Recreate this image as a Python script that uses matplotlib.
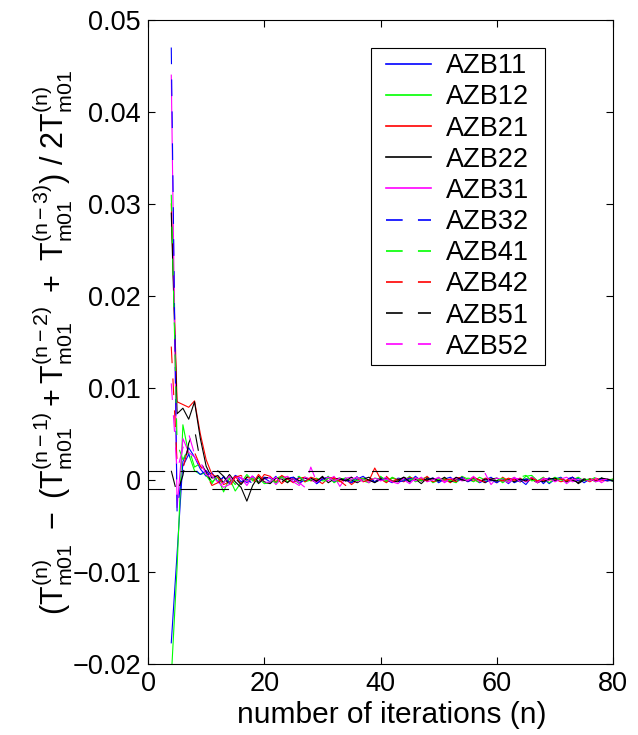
import matplotlib
matplotlib.use("Agg")
import matplotlib.pyplot as plt
from matplotlib.patches import Rectangle
import numpy as np

# values are in units of 1e-4, iterations n = 4 .. 80
UNIT = 1e-4
n_iter = np.arange(4, 81)

labels = ["AZB11", "AZB12", "AZB21", "AZB22", "AZB31",
          "AZB32", "AZB41", "AZB42", "AZB51", "AZB52"]
colors = ["#0000ff", "#00ff00", "#ff0000", "#000000", "#ff00ff",
          "#0000ff", "#00ff00", "#ff0000", "#000000", "#ff00ff"]
dashed = [False, False, False, False, False, True, True, True, True, True]

azb11 = [-177, -80, 20, 35, 25, 12, 4, 8, -2, 3, -4, 5, 2, -3, 4, -2, 3,
         2, -3, 4, 1, -2, 3, -1, 2, -4, 1,
         3, -2, 0, 2, -3, 1, 4, -1, -2, 3,
         0, -3, 2, 1, -2, 4, -1, 0, 2, -3,
         1, 3, -2, 1, -1, 2, -3, 0, 3, -2,
         1, -4, 2, 0, -5, 3, -1, 2, -4, 1,
         3, -2, 0, 2, -3, 1, -1, 2, 0, -1]
azb12 = [-215, -95, 60, 28, 10, 6, 8, -2, 3, -13, 2, -12, -3, 6, -1, 2, -4,
         -3, 2, 4, -2, 1, -4, 3, 0, 2, -1,
         4, -3, 1, 2, -2, 3, -1, -3, 2, 1,
         -2, 3, 0, -1, 4, -2, 1, 3, -3, 0,
         2, -1, -3, 4, 1, -2, 3, 0, -1, 2,
         -3, 1, 2, -2, 4, 5, -1, 3, -3, 1,
         2, -2, 0, 3, -1, 1, -2, 2, 0, -1]
azb21 = [300, 85, 82, 79, 86, 50, 22, 6, 3, -5, -2, 4, -4, 3, 1, -3, 6,
         4, -2, 5, 1, -3, 2, 3, -1, 0, -4,
         2, 3, -2, 1, -5, 0, 2, -1, 13, 1,
         -3, 2, 0, -2, 3, 1, -1, 4, -2, 0,
         1, -3, 2, 3, -1, 0, -2, 2, 1, -3,
         3, -1, 0, 2, -2, 1, -3, 2, 0, 1,
         -2, 0, 3, -1, 1, -2, 2, 0, -1, 1]
azb22 = [290, 72, 78, 66, 85, 45, 15, 2, 5, -3, 6, -2, -8, -23, -6, 4, -2,
         -4, 2, 1, -3, 3, -1, 2, 0, -2, 4,
         -3, 1, 2, -1, 0, -3, 1, 3, -2, 1,
         2, -1, -2, 3, 0, 1, -4, 2, 1, -1,
         3, -2, 0, 1, -1, 2, 0, -3, 1, 2,
         -1, 0, 2, -2, 1, 1, -3, 0, 2, -1,
         1, -2, 3, -4, 0, 1, -1, 2, 0, -1]
azb31 = [440, -30, 45, 30, 25, 15, 10, 4, -2, -8, -5, 3, 2, -6, 4, -3, 1,
         3, -5, 2, 4, -2, -6, 3, 1, -3, 2,
         -1, 4, -7, 2, 3, -2, 1, -3, 2, 0,
         3, -2, -4, 2, 1, -1, 3, -2, 0, 2,
         -3, 1, 2, -1, 0, 3, -2, 1, -1, 2,
         0, -3, 2, 1, -2, 3, -1, 0, 2, -2,
         1, 3, -2, 0, 1, -1, 2, -3, 1, 0]
azb32 = [470, -35, 15, 28, 12, 6, 10, 2, -5, 4, -3, 6, -2, 1, -4, 3, 2,
         -2, 4, -1, 2, 3, -3, 0, 2, -4, 1,
         3, -2, 1, 0, -3, 4, -1, 2, -2, 0,
         1, 3, -2, -1, 2, 0, -3, 1, 2, -1,
         0, 2, -1, 3, -2, 1, 4, -2, 0, -3,
         1, 2, -3, 0, 1, -1, 3, -4, 2, 0,
         -2, 1, 3, -1, 0, 2, -2, 1, -1, 0]
azb41 = [310, 40, 22, 35, 14, 18, 5, -4, 6, -2, 3, -5, 4, -1, 2, -3, 5,
         1, -3, 3, -1, 2, 4, -2, 0, 3, -3,
         2, 0, -2, 3, 1, -1, 2, -3, 0, 4,
         -1, 2, 1, -3, 0, 2, -1, 3, -2, 1,
         0, -1, 3, -2, 2, 1, -3, 0, 1, -1,
         2, -2, 1, 3, 5, -1, 0, 2, -1, 3,
         0, -1, 2, -2, 1, 0, 3, -1, 0, 1]
azb42 = [145, 20, 12, 38, 30, 15, 6, -6, -3, 2, -8, 3, 5, -2, -4, 6, -1,
         -1, 3, -4, 2, 0, 1, -2, 3, 1, -3,
         0, 2, -1, -6, 1, 3, -2, 0, 2, -1,
         4, -2, 1, 0, -3, 2, 1, -1, 3, -2,
         0, 1, -2, 2, -1, 3, 0, -2, 1, 0,
         -1, 2, 0, -2, 1, 2, -1, 0, -3, 2,
         1, -1, 0, 2, -2, 1, 0, -1, 2, 0]
azb51 = [10, -15, 5, 40, 55, 20, 8, -3, 10, 4, -6, 2, -5, 3, 9, -4, 2,
         3, -1, -2, 2, 1, -3, 0, 2, -1, 3,
         -2, 0, 1, -1, 3, -2, 2, 0, -3, 1,
         2, -1, 0, 3, -2, -4, 1, 0, 2, -1,
         1, -2, 3, 0, -1, 2, -2, 1, 0, -1,
         2, 0, -2, 1, -1, 3, 0, -2, 1, 2,
         -1, 2, 0, -3, 1, 0, -1, 2, 1, -1]
azb52 = [105, 10, 35, 50, 28, 20, 6, 2, -7, -3, 4, -6, 3, -2, 5, 1, -3,
         -2, 3, -4, 2, 1, -3, -8, 14, -2, 1,
         3, -1, 2, -7, 1, 3, -2, 0, 2, -1,
         1, -2, 3, 0, -4, 2, 1, -1, 0, 3,
         -2, 1, 0, 2, -1, 4, -3, 7, -5, 2,
         0, -1, 3, -2, 1, 0, -3, 2, -1, 1,
         2, -4, 1, 0, -1, 2, -2, 0, 1, -1]

series = [azb11, azb12, azb21, azb22, azb31, azb32, azb41, azb42, azb51, azb52]

tol = 0.001
xticks = [0, 20, 40, 60, 80]
yticks = [-0.02, -0.01, 0, 0.01, 0.02, 0.03, 0.04, 0.05]
ytick_labels = ["\u22120.02", "\u22120.01", "0", "0.01", "0.02", "0.03", "0.04", "0.05"]

plt.rcParams['font.family'] = ['Liberation Sans', 'DejaVu Sans']
plt.rcParams['mathtext.fontset'] = 'custom'
plt.rcParams['mathtext.rm'] = 'Liberation Sans'
plt.rcParams['mathtext.it'] = 'Liberation Sans'
plt.rcParams['lines.scale_dashes'] = False

fig = plt.figure(figsize=(6.38, 7.35), dpi=100)
ax = fig.add_axes([0.232, 0.0966, 0.729, 0.8763])

for vals, lab, col, dsh in zip(series, labels, colors, dashed):
    y = np.array(vals) * UNIT
    line, = ax.plot(n_iter, y, color=col, lw=0.8, label=lab)
    if dsh:
        line.set_dashes((12, 11))

for lvl in (tol, -tol):
    hl = ax.axhline(lvl, color='black', lw=0.8)
    hl.set_dashes((12, 11))

ax.set_xlim(0, 80)
ax.set_ylim(-0.02, 0.05)
ax.set_xticks(xticks)
ax.set_yticks(yticks)
ax.set_yticklabels(ytick_labels)
ax.tick_params(direction='in', length=5, width=0.8, top=True, right=True,
               labelsize=19.5, pad=5)
for sp in ax.spines.values():
    sp.set_linewidth(0.8)

ax.set_xlabel("number of iterations (n)", fontsize=21.5)
ax.xaxis.set_label_coords(0.525, -0.057)
ax.xaxis.label.set_va('top')
ax.set_ylabel(r"$(\mathrm{T}^{(n)}_{m01}\ -\ (\mathrm{T}^{(n-1)}_{m01}+\mathrm{T}^{(n-2)}_{m01}\ +\ "
              r"\mathrm{T}^{(n-3)}_{m01})\ /\ 2\mathrm{T}^{(n)}_{m01}$",
              fontsize=22, labelpad=-2)

leg = ax.legend(loc='upper right', bbox_to_anchor=(0.831, 0.9565), fontsize=19.5,
                labelspacing=0.19, handlelength=1.66, handletextpad=0.55,
                borderpad=0.2, borderaxespad=0, frameon=False)
leg.set_zorder(6)
for lh in leg.get_lines():
    lh.set_linewidth(1.2)

# MATLAB style box: wide side padding, tight top/bottom
fig.canvas.draw()
ext = leg.get_window_extent()
side = 10
fw, fh = fig.bbox.width, fig.bbox.height
frame = Rectangle(((ext.x0 - side) / fw, ext.y0 / fh), (ext.width + 2 * side) / fw,
                  ext.height / fh, transform=fig.transFigure, facecolor='white',
                  edgecolor='black', lw=0.8, zorder=5.5, clip_on=False)
ax.add_patch(frame)

fig.savefig("out.png", dpi=100)
